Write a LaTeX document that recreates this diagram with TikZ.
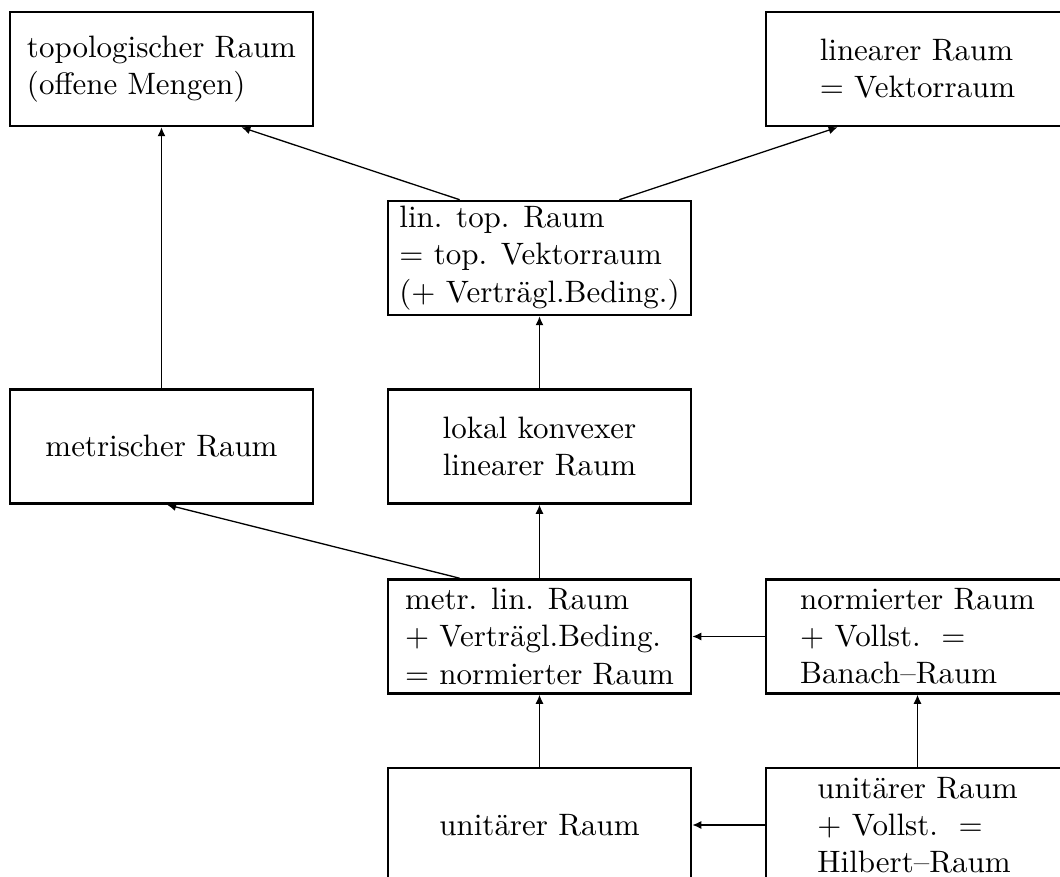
\documentclass[tikz,border=0pt]{standalone}
\usetikzlibrary{arrows.meta}

\tikzset{
  raum/.style={draw, line width=0.85pt, minimum width=97.9pt, minimum height=36.8pt,
    inner sep=0pt, align=left},
  pfeil/.style={->, line width=0.42pt},
}

\begin{document}
\begin{tikzpicture}[x=0.323pt, y=0.323pt, >={Latex[length=2.9pt,width=2.6pt]}]
  \clip (0,0) rectangle (1060,877);
  \useasboundingbox (0,0) rectangle (1060,877);
            % boxes
            \node[raum] (topo) at (161.5,808) {topologischer Raum\\(offene Mengen)};
            \node[raum] (linear) at (917.5,808) {linearer Raum\\$=$ Vektorraum};
            \node[raum] (lintop) at (539.5,619) {lin. top. Raum\\$=$ top. Vektorraum\\($+$ Vertr\"agl.Beding.)};
            \node[raum, align=center] (metr) at (161.5,430.5) {metrischer Raum};
            \node[raum, align=center] (lokal) at (539.5,430.5) {lokal konvexer\\linearer Raum};
            \node[raum] (metrlin) at (539.5,240.5) {metr. lin. Raum\\$+$ Vertr\"agl.Beding.\\$=$ normierter Raum};
            \node[raum] (banach) at (917.5,240.5) {normierter Raum\\$+$ Vollst.~~$=$\\Banach--Raum};
            \node[raum, align=center] (unitaer) at (539.5,52) {unit\"arer Raum};
            \node[raum] (hilbert) at (917.5,52) {unit\"arer Raum\\$+$ Vollst.~~$=$\\Hilbert--Raum};
            % arrows
            \draw[pfeil] (metr) -- (topo);
            \draw[pfeil] ([xshift=-25.8pt]lintop.north) -- ([xshift=25.8pt]topo.south);
            \draw[pfeil] ([xshift=25.8pt]lintop.north) -- ([xshift=-25.8pt]linear.south);
            \draw[pfeil] (lokal) -- (lintop);
            \draw[pfeil] (metrlin) -- (lokal);
            \draw[pfeil] ([xshift=-25.8pt]metrlin.north) -- ([xshift=1.8pt]metr.south);
            \draw[pfeil] (banach) -- (metrlin);
            \draw[pfeil] (unitaer) -- (metrlin);
            \draw[pfeil] (hilbert) -- (banach);
            \draw[pfeil] (hilbert) -- (unitaer);
          \end{tikzpicture}
\end{document}
